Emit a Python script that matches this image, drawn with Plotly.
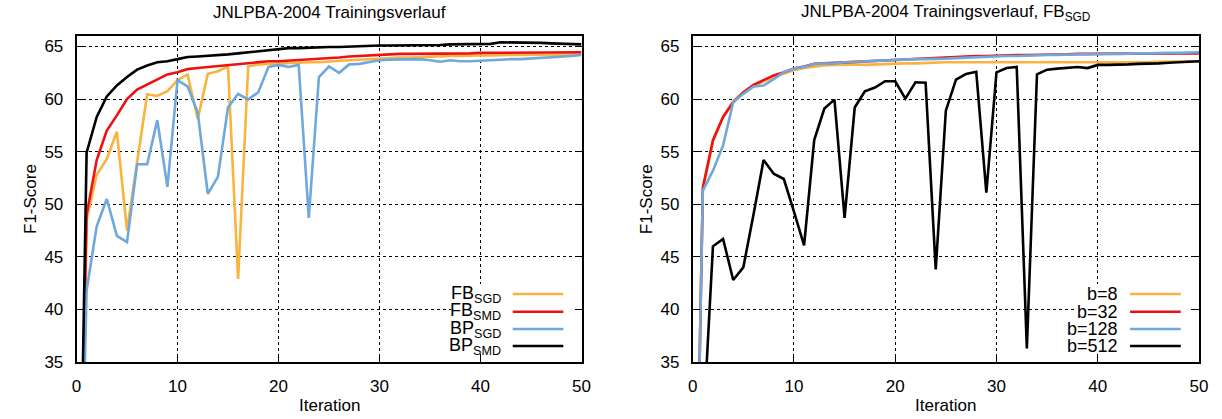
import plotly.graph_objects as go

# ---------------- data ----------------
iterations = list(range(0, 51))

# left panel: JNLPBA-2004 Trainingsverlauf
fb_sgd = [0, 48.5, 52.8, 54.3, 56.9, 47.5, 54.0, 60.45, 60.3, 60.75,
          61.8, 62.35, 58.1, 62.4, 62.65, 63.1, 42.9, 63.1, 63.3, 63.35,
          63.4, 63.45, 63.45, 63.5, 63.5, 63.6, 63.65, 63.7, 63.75, 63.8,
          63.9, 63.9, 63.95, 63.95, 64.0, 64.05, 64.05, 64.1, 64.1, 64.15,
          64.15, 64.15, 64.2, 64.2, 64.2, 64.2, 64.25, 64.25, 64.25, 64.25, 64.25]
fb_smd = [0, 49.0, 54.2, 57.0, 58.45, 60.0, 60.9, 61.4, 61.9, 62.35,
          62.55, 62.85, 62.95, 63.05, 63.1, 63.2, 63.35, 63.45, 63.5, 63.6,
          63.6, 63.65, 63.7, 63.8, 63.85, 63.9, 63.95, 64.05, 64.1, 64.2,
          64.25, 64.25, 64.3, 64.3, 64.3, 64.3, 64.35, 64.35, 64.35, 64.35,
          64.4, 64.4, 64.4, 64.4, 64.4, 64.45, 64.45, 64.45, 64.45, 64.45, 64.45]
bp_sgd = [0, 41.8, 47.9, 50.5, 47.0, 46.4, 53.8, 53.8, 58.0, 51.65,
          61.8, 61.2, 58.75, 51.0, 52.6, 59.2, 60.5, 59.97, 60.65, 63.05,
          63.25, 63.05, 63.25, 48.7, 62.1, 63.1, 62.5, 63.3, 63.35, 63.5,
          63.7, 63.75, 63.75, 63.75, 63.8, 63.7, 63.55, 63.7, 63.6, 63.6,
          63.65, 63.75, 63.75, 63.8, 63.8, 63.85, 63.9, 64.0, 64.05, 64.1, 64.2]
bp_smd = [0, 54.9, 58.3, 60.25, 61.3, 62.1, 62.8, 63.2, 63.5, 63.6,
          63.8, 64.0, 64.05, 64.1, 64.2, 64.25, 64.35, 64.45, 64.55, 64.65,
          64.8, 64.85, 64.85, 64.9, 64.9, 64.95, 64.95, 65.0, 65.0, 65.05,
          65.1, 65.1, 65.1, 65.1, 65.15, 65.15, 65.15, 65.2, 65.2, 65.2,
          65.25, 65.25, 65.4, 65.4, 65.35, 65.35, 65.35, 65.3, 65.25, 65.25, 65.2]

# right panel: JNLPBA-2004 Trainingsverlauf, FB_SGD (batch sizes)
b8 = [0, 51.3, 56.0, 58.3, 59.8, 60.6, 61.2, 61.7, 62.1, 62.4,
      62.75, 62.95, 63.1, 63.2, 63.25, 63.3, 63.3, 63.25, 63.3, 63.35,
      63.4, 63.4, 63.4, 63.45, 63.45, 63.5, 63.5, 63.5, 63.5, 63.5,
      63.5, 63.5, 63.45, 63.45, 63.45, 63.45, 63.45, 63.45, 63.45, 63.45,
      63.45, 63.45, 63.5, 63.5, 63.5, 63.5, 63.55, 63.55, 63.55, 63.6, 63.6]
b32 = [0, 51.6, 56.1, 58.3, 59.7, 60.65, 61.35, 61.8, 62.25, 62.55,
       62.9, 63.1, 63.35, 63.4, 63.45, 63.5, 63.55, 63.6, 63.65, 63.7,
       63.75, 63.8, 63.85, 63.9, 63.95, 64.0, 64.05, 64.05, 64.1, 64.1,
       64.15, 64.15, 64.2, 64.2, 64.2, 64.25, 64.25, 64.25, 64.3, 64.3,
       64.3, 64.3, 64.3, 64.3, 64.3, 64.3, 64.3, 64.3, 64.3, 64.35, 64.35]
b128 = [0, 51.3, 53.2, 55.6, 59.7, 60.5, 61.2, 61.3, 61.9, 62.55,
        62.9, 63.05, 63.35, 63.35, 63.4, 63.5, 63.55, 63.6, 63.65, 63.7,
        63.75, 63.75, 63.8, 63.8, 63.8, 63.85, 63.9, 63.95, 64.0, 64.0,
        64.05, 64.1, 64.1, 64.15, 64.15, 64.2, 64.2, 64.25, 64.25, 64.25,
        64.3, 64.3, 64.3, 64.35, 64.35, 64.35, 64.4, 64.4, 64.4, 64.45, 64.45]
b512 = [0, 28.0, 46.0, 46.7, 42.8, 44.0, 49.0, 54.2, 52.9, 52.4,
        49.3, 46.1, 56.1, 59.1, 59.95, 48.7, 59.2, 60.75, 61.1, 61.7,
        61.7, 60.05, 61.6, 61.55, 43.8, 58.9, 61.85, 62.4, 62.6, 51.1,
        62.55, 62.95, 63.05, 36.3, 62.35, 62.8, 62.9, 62.95, 63.05, 62.95,
        63.25, 63.25, 63.25, 63.3, 63.35, 63.35, 63.4, 63.45, 63.5, 63.55, 63.6]

x_ticks = [0, 10, 20, 30, 40, 50]
y_ticks = [35, 40, 45, 50, 55, 60, 65]

left_names = ["FB<sub>SGD</sub>", "FB<sub>SMD</sub>", "BP<sub>SGD</sub>", "BP<sub>SMD</sub>"]
right_names = ["b=8", "b=32", "b=128", "b=512"]
colors = ["#F9B33F", "#EE1111", "#6FA8DC", "#000000"]

title_left = "JNLPBA-2004 Trainingsverlauf"
title_right = "JNLPBA-2004 Trainingsverlauf, FB<sub>SGD</sub>"
x_label = "Iteration"
y_label = "F1-Score"

# ---------------- figure ----------------
FONT = "Liberation Sans, Arial, Helvetica, sans-serif"
W, H = 1222, 419

fig = go.Figure()

left_series = [fb_sgd, fb_smd, bp_sgd, bp_smd]
right_series = [b8, b32, b128, b512]

for ys, name, col in zip(left_series, left_names, colors):
    fig.add_trace(go.Scatter(x=iterations, y=ys, mode="lines", name=name,
                             line=dict(color=col, width=2.6), xaxis="x", yaxis="y",
                             showlegend=False))
for ys, name, col in zip(right_series, right_names, colors):
    fig.add_trace(go.Scatter(x=iterations, y=ys, mode="lines", name=name,
                             line=dict(color=col, width=2.6), xaxis="x2", yaxis="y2",
                             showlegend=False))

# plot area positions (px)
L1, R1 = 76.5, 581.5
L2, R2 = 692.7, 1199.0
TOP, BOT = 36.0, 362.0
PH = BOT - TOP

def axis_common():
    return dict(
        showline=True, linecolor="black", linewidth=1.6, mirror="ticks",
        ticks="inside", ticklen=7, tickwidth=1.2, tickcolor="black",
        showgrid=True, gridcolor="black", gridwidth=1, griddash="dot",
        zeroline=False, fixedrange=True, automargin=False,
        tickfont=dict(family=FONT, size=17, color="black"),
    )

xa = axis_common()
ya = axis_common()

fig.update_layout(
    width=W, height=H, autosize=False,
    margin=dict(l=0, r=0, t=0, b=0, pad=0, autoexpand=False),
    paper_bgcolor="white", plot_bgcolor="white",
    showlegend=False,
    xaxis=dict(xa, domain=[L1 / W, R1 / W], range=[0, 50], tickvals=x_ticks,
               anchor="y", ticklabelstandoff=8),
    yaxis=dict(ya, domain=[(H - BOT) / H, (H - TOP) / H], range=[35, 66],
               tickvals=y_ticks, anchor="x", ticklabelstandoff=8),
    xaxis2=dict(xa, domain=[L2 / W, R2 / W], range=[0, 50], tickvals=x_ticks,
                anchor="y2", ticklabelstandoff=8),
    yaxis2=dict(ya, domain=[(H - BOT) / H, (H - TOP) / H], range=[35, 66],
                tickvals=y_ticks, anchor="x2", ticklabelstandoff=8),
)

annotations = []
shapes = []

def add_panel_text(xref, yref, title, L):
    annotations.append(dict(text=title, xref=xref + " domain", yref="paper",
                            x=0.5, y=(H - 13) / H, xanchor="center", yanchor="middle",
                            showarrow=False, font=dict(family=FONT, size=17, color="black")))
    annotations.append(dict(text=x_label, xref=xref + " domain", yref="paper",
                            x=0.5, y=(H - 405) / H, xanchor="center", yanchor="middle",
                            showarrow=False, font=dict(family=FONT, size=17, color="black")))
    annotations.append(dict(text=y_label, xref="paper", yref=yref + " domain",
                            x=(L - 46.5) / W, y=0.5, xanchor="center", yanchor="middle",
                            textangle=-90, showarrow=False,
                            font=dict(family=FONT, size=17, color="black")))

add_panel_text("x", "y", title_left, L1)
add_panel_text("x2", "y2", title_right, L2)

# legends (text right-aligned, line sample to the right, gnuplot style)
rows_px = [294.0, 311.7, 329.0, 346.0]

def add_legend(xref, yref, names, box_left):
    # opaque legend background (covers grid), kept clear of the frame and ticks
    shapes.append(dict(type="rect", xref=xref + " domain", yref=yref + " domain",
                       x0=box_left, x1=0.983, y0=8.5 / PH, y1=(BOT - 284) / PH,
                       fillcolor="white", line=dict(width=0), layer="above"))
    for name, col, py in zip(names, colors, rows_px):
        yd = (BOT - py) / PH
        annotations.append(dict(text=name, xref=xref + " domain", yref=yref + " domain",
                                x=0.8446, y=yd, xanchor="right", yanchor="middle",
                                showarrow=False,
                                font=dict(family=FONT, size=18, color="black")))
        shapes.append(dict(type="line", xref=xref + " domain", yref=yref + " domain",
                           x0=0.8638, x1=0.9640, y0=yd, y1=yd,
                           line=dict(color=col, width=2.6), layer="above"))

add_legend("x", "y", left_names, 0.742)
add_legend("x2", "y2", right_names, 0.757)

fig.update_layout(annotations=annotations, shapes=shapes)

fig.write_html("out.html")
